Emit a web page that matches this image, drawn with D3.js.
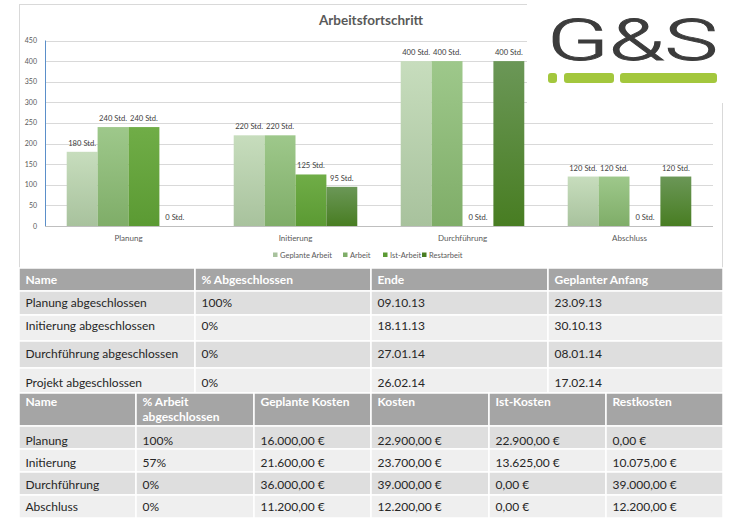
<!DOCTYPE html>
<html>
<head>
<meta charset="utf-8">
<script src="https://cdn.jsdelivr.net/npm/d3@7"></script>
<style>
  body { margin: 0; background: #fff; }
  svg text { font-family: Lato, "Open Sans", sans-serif; }
</style>
</head>
<body>
<svg id="page" width="733" height="526"></svg>
<script>
// chart data
const categories = ["Planung", "Initierung", "Durchführung", "Abschluss"];
const seriesNames = ["Geplante Arbeit", "Arbeit", "Ist-Arbeit", "Restarbeit"];
const geplanteArbeit = [180, 220, 400, 120];
const arbeit = [240, 220, 400, 120];
const istArbeit = [240, 125, 0, 0];
const restArbeit = [0, 95, 400, 120];
const yTicks = [0, 50, 100, 150, 200, 250, 300, 350, 400, 450];

// table 1
const t1Head = ["Name", "% Abgeschlossen", "Ende", "Geplanter Anfang"];
const t1Names = ["Planung abgeschlossen", "Initierung abgeschlossen", "Durchführung abgeschlossen", "Projekt abgeschlossen"];
const t1Done = ["100%", "0%", "0%", "0%"];
const t1End = ["09.10.13", "18.11.13", "27.01.14", "26.02.14"];
const t1Start = ["23.09.13", "30.10.13", "08.01.14", "17.02.14"];

// table 2
const t2Head = [["Name"], ["% Arbeit", "abgeschlossen"], ["Geplante Kosten"], ["Kosten"], ["Ist-Kosten"], ["Restkosten"]];
const t2Names = ["Planung", "Initierung", "Durchführung", "Abschluss"];
const t2Done = ["100%", "57%", "0%", "0%"];
const t2Planned = ["16.000,00 €", "21.600,00 €", "36.000,00 €", "11.200,00 €"];
const t2Cost = ["22.900,00 €", "23.700,00 €", "39.000,00 €", "12.200,00 €"];
const t2Actual = ["22.900,00 €", "13.625,00 €", "0,00 €", "0,00 €"];
const t2Rest = ["0,00 €", "10.075,00 €", "39.000,00 €", "12.200,00 €"];

const colors = [
  ["#c7ddbd", "#a8c29d"],
  ["#9ec88b", "#7fad68"],
  ["#70ad47", "#5b9a33"],
  ["#6b9757", "#487d22"]
];

const svg = d3.select("#page");
const defs = svg.append("defs");
colors.forEach((c, i) => {
  const g = defs.append("linearGradient").attr("id", "grad" + i)
    .attr("x1", 0).attr("y1", 0).attr("x2", 0).attr("y2", 1);
  g.append("stop").attr("offset", "0%").attr("stop-color", c[0]);
  g.append("stop").attr("offset", "100%").attr("stop-color", c[1]);
});

// chart frame
svg.append("rect").attr("x", 19.5).attr("y", 4.5).attr("width", 703).attr("height", 264)
  .attr("fill", "#fff").attr("stroke", "#d9d9d9");

let margin = {left: 45, right: 713, top: 40.5, bottom: 226};

let y = d3.scaleLinear().domain([0, 450]).range([margin.bottom, margin.top]);
let x0 = d3.scaleBand().domain(categories).range([margin.left, margin.right]);
let groupW = x0.bandwidth() * 0.74;
let x1 = d3.scaleBand().domain(seriesNames).range([0, groupW]);

// gridlines
svg.append("g").selectAll("line").data(yTicks.slice(1)).join("line")
  .attr("x1", margin.left).attr("x2", margin.right)
  .attr("y1", d => Math.round(y(d)) + 0.5).attr("y2", d => Math.round(y(d)) + 0.5)
  .attr("stroke", "#d9d9d9");

// y labels
svg.append("g").selectAll("text").data(yTicks).join("text")
  .attr("x", 37).attr("y", d => y(d) + 2.5)
  .attr("text-anchor", "end").attr("font-size", 7).attr("fill", "#595959")
  .text(d => d);

const seriesVals = [geplanteArbeit, arbeit, istArbeit, restArbeit];
const bars = [];
categories.forEach((c, ci) => {
  seriesNames.forEach((s, si) => {
    bars.push({cat: c, series: s, si: si, value: seriesVals[si][ci]});
  });
});

const barX = d => x0(d.cat) + (x0.bandwidth() - groupW) / 2 + x1(d.series);

// bars
svg.append("g").selectAll("rect").data(bars.filter(d => d.value > 0)).join("rect")
  .attr("x", barX)
  .attr("y", d => y(d.value))
  .attr("width", x1.bandwidth())
  .attr("height", d => y(0) - y(d.value))
  .attr("fill", d => "url(#grad" + d.si + ")");

// axes lines
svg.append("line").attr("x1", margin.left).attr("x2", margin.right)
  .attr("y1", margin.bottom + 0.5).attr("y2", margin.bottom + 0.5).attr("stroke", "#bfbfbf");
svg.append("line").attr("x1", margin.left + 0.5).attr("x2", margin.left + 0.5)
  .attr("y1", margin.top).attr("y2", margin.bottom).attr("stroke", "#5b8fc9");

// data labels
svg.append("g").selectAll("text").data(bars).join("text")
  .attr("x", d => barX(d) + x1.bandwidth() / 2)
  .attr("y", d => y(d.value) - 6)
  .attr("text-anchor", "middle").attr("font-size", 7.6).attr("fill", "#404040")
  .text(d => d.value + " Std.");

// category labels
svg.append("g").selectAll("text").data(categories).join("text")
  .attr("x", d => x0(d) + x0.bandwidth() / 2).attr("y", 240.5)
  .attr("text-anchor", "middle").attr("font-size", 8).attr("fill", "#595959")
  .text(d => d);

// title
svg.append("text").attr("x", 371).attr("y", 25)
  .attr("text-anchor", "middle").attr("font-size", 13.5).attr("font-weight", "bold")
  .attr("fill", "#595959").text("Arbeitsfortschritt");

// legend
const legendX = [273, 343, 383, 422];
const legend = svg.append("g").selectAll("g").data(seriesNames).join("g")
  .attr("transform", (d, i) => "translate(" + legendX[i] + ",255)");
legend.append("rect").attr("x", 0).attr("y", -2.5).attr("width", 4.5).attr("height", 4.5)
  .attr("fill", (d, i) => colors[i][1]);
legend.append("text").attr("x", 7).attr("y", 2.5).attr("font-size", 7.5).attr("fill", "#595959")
  .text(d => d);

// logo
svg.append("rect").attr("x", 527).attr("y", 0).attr("width", 206).attr("height", 103).attr("fill", "#fff");
svg.append("text").attr("x", 547).attr("y", 60)
  .attr("font-weight", 300).attr("font-size", 57)
  .attr("textLength", 171).attr("lengthAdjust", "spacingAndGlyphs")
  .attr("fill", "#3c3c3c").attr("stroke", "#3c3c3c").attr("stroke-width", 0.9)
  .style("font-family", "Roboto, sans-serif").text("G&S");
const dashes = [[548, 557], [564, 614], [620, 717]];
svg.append("g").selectAll("rect").data(dashes).join("rect")
  .attr("x", d => d[0]).attr("y", 73).attr("width", d => d[1] - d[0]).attr("height", 10)
  .attr("rx", 3).attr("fill", "#a3c73d");

// tables
function drawTable(cols, rowTops, baselines, cellText) {
  const g = svg.append("g");
  const nRows = rowTops.length - 1;
  for (let r = 0; r < nRows; r++) {
    for (let c = 0; c < cols.length - 1; c++) {
      const fill = r === 0 ? "#a5a5a5" : (r % 2 === 1 ? "#dedede" : "#efefef");
      g.append("rect").attr("x", cols[c]).attr("y", rowTops[r])
        .attr("width", cols[c + 1] - cols[c]).attr("height", rowTops[r + 1] - rowTops[r])
        .attr("fill", fill).attr("stroke", "#fff").attr("stroke-width", 1.5);
      const lines = cellText(r, c);
      lines.forEach((t, li) => {
        g.append("text").attr("x", cols[c] + 6.5).attr("y", baselines[r] + li * 15)
          .attr("font-size", 12)
          .attr("font-weight", r === 0 ? "bold" : "normal")
          .attr("fill", r === 0 ? "#fff" : "#262626")
          .text(t);
      });
    }
  }
}

const t1Cols = [t1Names, t1Done, t1End, t1Start];
drawTable([19, 195, 371, 548, 723], [268, 291, 315, 341, 368, 393],
  [284, 307, 330, 358, 387],
  (r, c) => r === 0 ? [t1Head[c]] : [t1Cols[c][r - 1]]);

const t2Cols = [t2Names, t2Done, t2Planned, t2Cost, t2Actual, t2Rest];
drawTable([19, 136, 254, 371, 489, 606, 723], [393, 426, 449, 472, 495, 518],
  [406, 445, 467, 489, 511],
  (r, c) => r === 0 ? t2Head[c] : [t2Cols[c][r - 1]]);
</script>
</body>
</html>
